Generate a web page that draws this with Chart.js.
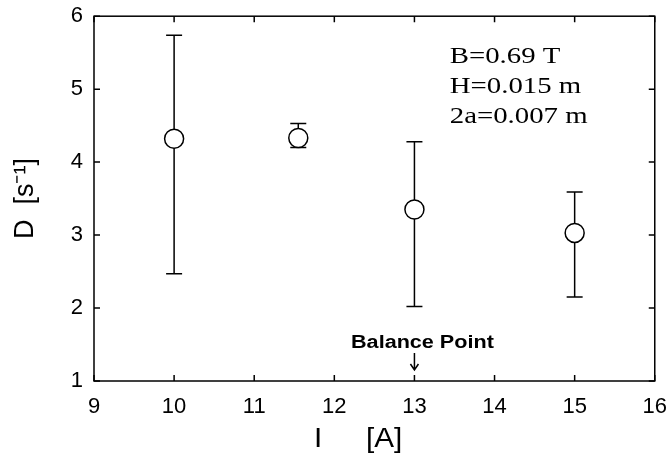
<!DOCTYPE html>
<html lang="en">
<head>
<meta charset="UTF-8">
<title>D vs I</title>
<script src="https://cdn.jsdelivr.net/npm/chart.js"></script>
<style>
  * { margin: 0; padding: 0; }
  body { background: white; width: 672px; height: 454px; overflow: hidden; }
  #chart { display: block; }
</style>
</head>
<body>
<canvas id="chart" width="672" height="454"></canvas>
<script>
  // measured points: coil current I [A], mean D [1/s] and error bar ends
  const current = [10, 11.55, 13, 15];
  const dMean = [4.32, 4.33, 3.35, 3.03];
  const dHigh = [5.74, 4.53, 4.28, 3.59];
  const dLow = [2.47, 4.20, 2.02, 2.15];

  const xTicks = [9, 10, 11, 12, 13, 14, 15, 16];
  const yTicks = [1, 2, 3, 4, 5, 6];

  const balancePoint = 13;
  const conditions = ['B=0.69 T', 'H=0.015 m', '2a=0.007 m'];

  const SANS = "'Liberation Sans', Arial, sans-serif";
  const SERIF = "'Liberation Serif', 'Times New Roman', serif";

  // text drawn a bit wider than the font, like the old plot
  function wideText(ctx, text, x, y, stretch) {
    ctx.save();
    ctx.translate(x, y);
    ctx.scale(stretch, 1);
    ctx.fillText(text, 0, 0);
    ctx.restore();
  }

  // error bars go under the circles
  const errorBars = {
    id: 'errorBars',
    beforeDatasetsDraw(chart) {
      const ctx = chart.ctx;
      const xs = chart.scales.x, ys = chart.scales.y;
      ctx.save();
      ctx.strokeStyle = '#000';
      ctx.lineWidth = 1.5;
      current.forEach((c, i) => {
        const px = xs.getPixelForValue(c);
        const top = ys.getPixelForValue(dHigh[i]);
        const bot = ys.getPixelForValue(dLow[i]);
        ctx.beginPath();
        ctx.moveTo(px, top); ctx.lineTo(px, bot);
        ctx.moveTo(px - 8, top); ctx.lineTo(px + 8, top);
        ctx.moveTo(px - 8, bot); ctx.lineTo(px + 8, bot);
        ctx.stroke();
      });
      ctx.restore();
    }
  };

  // box round the plot with inward ticks on all four sides
  const frame = {
    id: 'frame',
    afterDraw(chart) {
      const ctx = chart.ctx;
      const a = chart.chartArea;
      const xs = chart.scales.x, ys = chart.scales.y;
      const len = 6;
      ctx.save();
      ctx.strokeStyle = '#000';
      ctx.lineWidth = 1.5;
      ctx.strokeRect(a.left, a.top, a.right - a.left, a.bottom - a.top);
      ctx.beginPath();
      xTicks.forEach(v => {
        const px = xs.getPixelForValue(v);
        ctx.moveTo(px, a.bottom); ctx.lineTo(px, a.bottom - len);
        ctx.moveTo(px, a.top); ctx.lineTo(px, a.top + len);
      });
      yTicks.forEach(v => {
        const py = ys.getPixelForValue(v);
        ctx.moveTo(a.left, py); ctx.lineTo(a.left + len, py);
        ctx.moveTo(a.right, py); ctx.lineTo(a.right - len, py);
      });
      ctx.stroke();
      ctx.restore();
    }
  };

  // conditions text, balance point marker and the x axis title
  const notes = {
    id: 'notes',
    afterDraw(chart) {
      const ctx = chart.ctx;
      const a = chart.chartArea;
      const xs = chart.scales.x;
      ctx.save();
      ctx.fillStyle = '#000';
      ctx.strokeStyle = '#000';

      ctx.font = '24px ' + SERIF;
      ctx.textAlign = 'left';
      ctx.textBaseline = 'alphabetic';
      conditions.forEach((t, i) => {
        wideText(ctx, t, a.right - 205, a.top + 47 + i * 30, 1.2);
      });

      const bx = xs.getPixelForValue(balancePoint);
      ctx.font = 'bold 18px ' + SANS;
      ctx.textAlign = 'center';
      wideText(ctx, 'Balance Point', bx + 8, a.bottom - 33, 1.2);
      ctx.lineWidth = 1.5;
      ctx.beginPath();
      ctx.moveTo(bx, a.bottom - 28);
      ctx.lineTo(bx, a.bottom - 11);
      ctx.moveTo(bx - 4, a.bottom - 17);
      ctx.lineTo(bx, a.bottom - 11);
      ctx.lineTo(bx + 4, a.bottom - 17);
      ctx.stroke();

      ctx.font = '27px ' + SANS;
      ctx.textAlign = 'left';
      wideText(ctx, 'I', a.left + 220, a.bottom + 66, 1.1);
      wideText(ctx, '[A]', a.left + 272, a.bottom + 66, 1.1);
      ctx.restore();
    }
  };

  new Chart(document.getElementById('chart'), {
    type: 'scatter',
    data: {
      datasets: [{
        data: current.map((c, i) => ({ x: c, y: dMean[i] })),
        pointStyle: 'circle',
        pointRadius: 9.5,
        pointHoverRadius: 9.5,
        pointBorderWidth: 1.5,
        pointBorderColor: '#000',
        pointBackgroundColor: '#fff'
      }]
    },
    options: {
      responsive: false,
      animation: false,
      events: [],
      layout: { padding: { top: 6, right: 11, left: 0, bottom: 0 } },
      plugins: { legend: { display: false }, tooltip: { enabled: false } },
      scales: {
        x: {
          type: 'linear',
          min: 9,
          max: 16,
          afterBuildTicks: s => { s.ticks = xTicks.map(v => ({ value: v })); },
          afterFit: s => { s.height = 73; },
          grid: { display: false },
          border: { display: false },
          ticks: { color: '#000', padding: 5, font: { family: SANS, size: 22 } }
        },
        y: {
          type: 'linear',
          min: 1,
          max: 6,
          afterBuildTicks: s => { s.ticks = yTicks.map(v => ({ value: v })); },
          afterFit: s => { s.width = 94; },
          grid: { display: false },
          border: { display: false },
          ticks: { color: '#000', padding: 3, font: { family: SANS, size: 22 } },
          title: {
            display: true,
            text: 'D  [s⁻¹]',
            color: '#000',
            padding: { top: 9, bottom: 0 },
            font: { family: SANS, size: 27 }
          }
        }
      }
    },
    plugins: [errorBars, frame, notes]
  });
</script>
</body>
</html>
